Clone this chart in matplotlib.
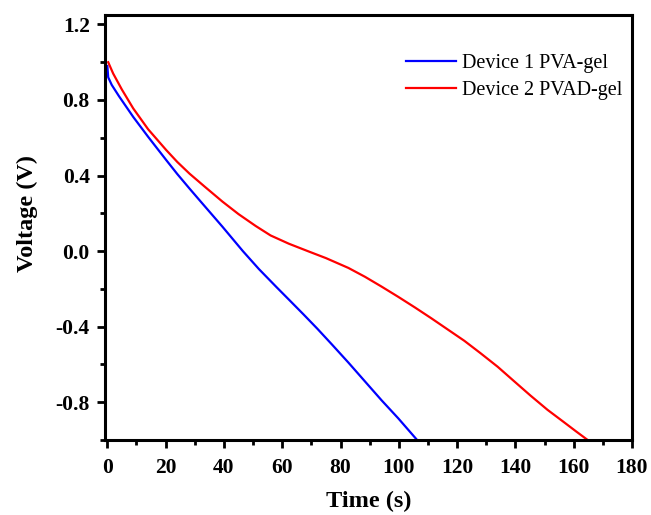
import matplotlib
matplotlib.use("Agg")
import matplotlib.pyplot as plt
from matplotlib.ticker import MultipleLocator, FuncFormatter

plt.rcParams['font.family'] = ['Liberation Serif', 'DejaVu Serif']
plt.rcParams['axes.unicode_minus'] = False

t_dev1 = [0, 0.3, 1.5, 4, 8.9, 14, 20.2, 24, 28.2, 31.6, 39.5, 46.5, 52, 58, 62.5,
          67.3, 72, 77.1, 82.7, 88.4, 94.1, 99.8, 106.0]
v_dev1 = [0.98, 0.92, 0.88, 0.82, 0.71, 0.605, 0.482, 0.408, 0.331, 0.27, 0.129, 0.0,
          -0.095, -0.19, -0.26, -0.335, -0.41, -0.495, -0.59, -0.69, -0.79,
          -0.885, -0.995]

t_dev2 = [0.3, 2, 5, 8.9, 14, 20.2, 24, 28.2, 33.5, 39.5, 45, 50.9, 56, 62.3, 69.1,
          75, 82.7, 88.4, 94.1, 99.8, 105.5, 111.1, 116.8, 122.5, 128, 133.9,
          139.5, 145.2, 151, 156.6, 160.7, 164.8]
v_dev2 = [1.0, 0.94, 0.855, 0.755, 0.645, 0.535, 0.472, 0.41, 0.34, 0.262, 0.196, 0.133,
          0.083, 0.039, -0.002, -0.037, -0.089, -0.136, -0.188, -0.242, -0.298,
          -0.355, -0.415, -0.475, -0.54, -0.612, -0.688, -0.765, -0.84, -0.905,
          -0.953, -1.0]

labels = ["Device 1 PVA-gel", "Device 2 PVAD-gel"]

fig = plt.figure(figsize=(6.51, 5.15), dpi=100)
ax = fig.add_axes([0.1613, 0.1456, 0.8095, 0.8253])

ax.plot(t_dev1, v_dev1, color='#0000ff', lw=1.6, label=labels[0])
ax.plot(t_dev2, v_dev2, color='#ff0000', lw=1.6, label=labels[1])

ax.set_xlim(-0.8, 180)
ax.set_ylim(-1.0, 1.25)
ax.xaxis.set_major_locator(MultipleLocator(20))
ax.xaxis.set_minor_locator(MultipleLocator(10))
ax.yaxis.set_major_locator(MultipleLocator(0.4))
ax.yaxis.set_minor_locator(MultipleLocator(0.2))
ax.yaxis.set_major_formatter(FuncFormatter(lambda v, p: f"{v:.1f}".replace("-0.0", "0.0")))

for s in ax.spines.values():
    s.set_linewidth(2.2)
ax.tick_params(which='major', direction='out', length=6, width=2, labelsize=15.5)
ax.tick_params(axis='y', which='major', pad=5)
ax.tick_params(axis='x', which='major', pad=7)
ax.tick_params(which='minor', direction='out', length=3.5, width=2)
for lab in ax.get_xticklabels() + ax.get_yticklabels():
    lab.set_fontweight('bold')

ax.set_xlabel("Time (s)", fontsize=17.5, fontweight='bold', labelpad=9.5)
ax.set_ylabel("Voltage (V)", fontsize=17.5, fontweight='bold')
ax.yaxis.set_label_coords(-0.127, 0.532)

ax.legend(loc='upper right', bbox_to_anchor=(1.008, 0.9415), frameon=False, fontsize=14.5,
          handlelength=2.45, handletextpad=0.3, labelspacing=0.4, borderaxespad=0.3)

fig.savefig("out.png", dpi=100)
